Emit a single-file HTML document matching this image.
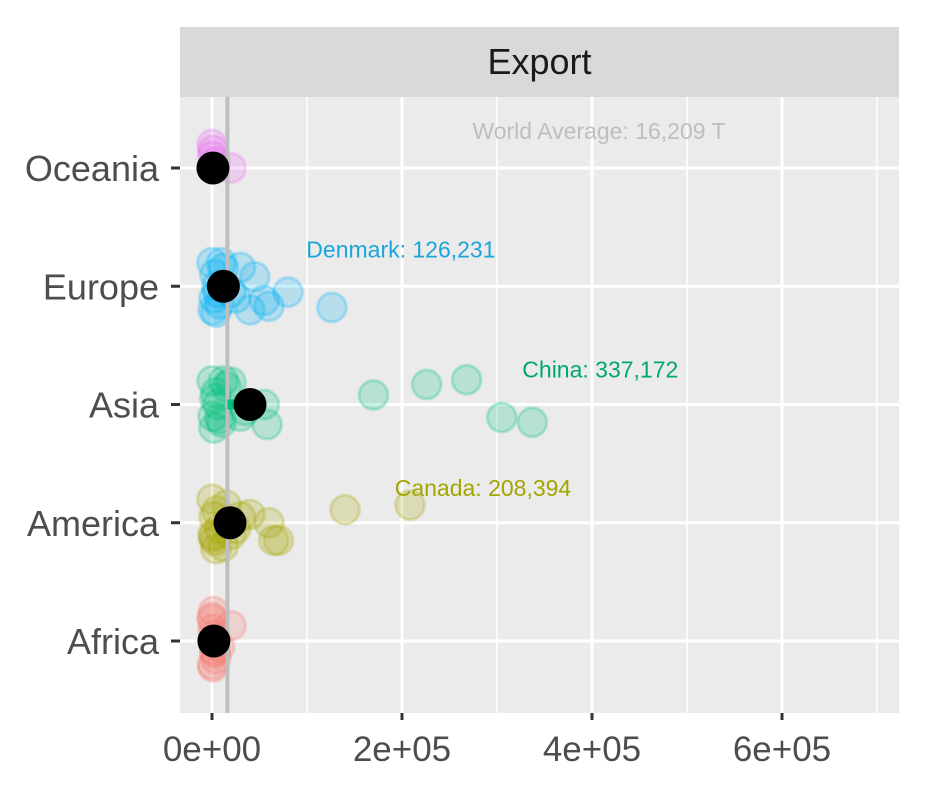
<!DOCTYPE html>
<html><head><meta charset="utf-8"><style>
body{margin:0;background:#fff;}
svg{display:block;font-family:"Liberation Sans",Arial,sans-serif;}
</style></head><body>
<svg id="chart" width="939" height="792" viewBox="0 0 939 792"></svg>
<script>
const regions=["Africa","America","Asia","Europe","Oceania"];
const colors=["#F8766D","#A3A500","#00BF7D","#00B0F6","#E76BF3"];
const means=[2000,19000,40000,12000,1000];
const worldAvg=16209;
const xTicks=[0,200000,400000,600000];
const xTickLabels=["0e+00","2e+05","4e+05","6e+05"];
// country values per region and jitter offsets (in category units, + = down)
const africaVals=[0,1000,2000,3000,500,1500,4000,8000,20000,2500,1000,500,3000];
const africaJit=[-0.2,-0.1,0,0.1,0.2,-0.25,0.15,0.05,-0.13,-0.05,0.22,-0.18,0.08];
const americaVals=[0,1000,3000,5000,8000,12000,15000,20000,25000,30000,40000,60000,65000,70000,140000,208394,2000,4000,1500];
const americaJit=[-0.2,0.1,0.15,-0.1,0.05,0.2,-0.15,0.1,0.05,-0.05,-0.07,0,0.15,0.15,-0.11,-0.15,-0.05,0.22,0.12];
const asiaVals=[0,1000,2000,4000,6000,10000,15000,20000,30000,35000,55000,58000,170000,226000,268000,305000,337172,3000,8000,12000];
const asiaJit=[-0.2,0.1,0.2,-0.1,0,0.15,-0.15,-0.19,0.1,0.05,0,0.17,-0.08,-0.17,-0.21,0.11,0.15,-0.05,0.12,-0.2];
const europeVals=[0,1000,2000,3000,5000,8000,12000,20000,25000,30000,40000,45000,55000,60000,80000,126231,4000,10000,6000];
const europeJit=[-0.2,0.2,0.1,-0.1,0,0.15,-0.15,0.05,0.1,-0.16,0.2,-0.08,0.12,0.17,0.05,0.18,0.22,-0.2,0.05];
const oceaniaVals=[0,500,1000,2000,3000,20000];
const oceaniaJit=[-0.2,-0.1,-0.15,0,-0.05,0];
const allVals=[africaVals,americaVals,asiaVals,europeVals,oceaniaVals];
const allJit=[africaJit,americaJit,asiaJit,europeJit,oceaniaJit];
const labels=[
 {r:1,v:208394,text:"Canada: 208,394",dx:73,dy:-27},
 {r:2,v:337172,text:"China: 337,172",dx:68,dy:-27},
 {r:3,v:126231,text:"Denmark: 126,231",dx:69,dy:-29}];

const svg=document.getElementById('chart');
const NS="http://www.w3.org/2000/svg";
const PL=180,PR=899,PT=97,PB=713;
function X(v){return 212+v*190/200000;}
function Y(i){return 641-i*118.25;}
function el(tag,attrs,parent){const e=document.createElementNS(NS,tag);for(const k in attrs)e.setAttribute(k,attrs[k]);(parent||svg).appendChild(e);return e;}

let r=el('rect',{x:PL,y:PT,width:PR-PL,height:PB-PT,fill:'#EBEBEB'});


let s=el('rect',{x:PL,y:27,width:PR-PL,height:70,fill:'#D9D9D9'});


let st=el('text',{x:(PL+PR)/2,y:74,'text-anchor':'middle','font-size':'36',fill:'#1A1A1A'});st.textContent="Export";



for(let k=0;k<4;k++){const x=X(100000+k*200000);let g=el('line',{x1:x,x2:x,y1:PT,y2:PB,stroke:'#fff','stroke-width':1.5});

}
xTicks.forEach((t,i)=>{const x=X(t);let g=el('line',{x1:x,x2:x,y1:PT,y2:PB,stroke:'#fff','stroke-width':3});


let tk=el('line',{x1:x,x2:x,y1:PB,y2:PB+7,stroke:'#333','stroke-width':3});


let tl=el('text',{x:x,y:PB+48,'text-anchor':'middle','font-size':'35',fill:'#4D4D4D'});tl.textContent=xTickLabels[i];

});
regions.forEach((reg,i)=>{const y=Y(i);let g=el('line',{x1:PL,x2:PR,y1:y,y2:y,stroke:'#fff','stroke-width':3});


let tk=el('line',{x1:PL-9,x2:PL,y1:y,y2:y,stroke:'#333','stroke-width':3});


let tl=el('text',{x:PL-21,y:y+13,'text-anchor':'end','font-size':'36',fill:'#4D4D4D'});tl.textContent=reg;

});

allVals.forEach((vals,i)=>{vals.forEach((v,j)=>{let c=el('circle',{cx:X(v),cy:Y(i)+allJit[i][j]*118,r:14.5,fill:colors[i],'fill-opacity':0.22,stroke:colors[i],'stroke-opacity':0.25,'stroke-width':3});

});});

let av=el('line',{x1:X(worldAvg),x2:X(worldAvg),y1:PT,y2:PB,stroke:'#BEBEBE','stroke-width':4});


let at=el('text',{x:599,y:139,'text-anchor':'middle','font-size':'23','fill':'#BEBEBE'});at.textContent="World Average: 16,209 T";



means.forEach((m,i)=>{let sg=el('line',{x1:X(worldAvg),x2:X(m),y1:Y(i),y2:Y(i),stroke:colors[i],'stroke-width':10});


let c=el('circle',{cx:X(m),cy:Y(i),r:16.5,fill:'#000'});

});

const labelColors=["#F8766D","#A3A500","#00A86E","#1AA6D8","#E76BF3"];
labels.forEach(l=>{let t=el('text',{x:X(l.v)+l.dx,y:Y(l.r)+l.dy,'text-anchor':'middle','font-size':'23',fill:labelColors[l.r]});t.textContent=l.text;

});
</script>
</body></html>
